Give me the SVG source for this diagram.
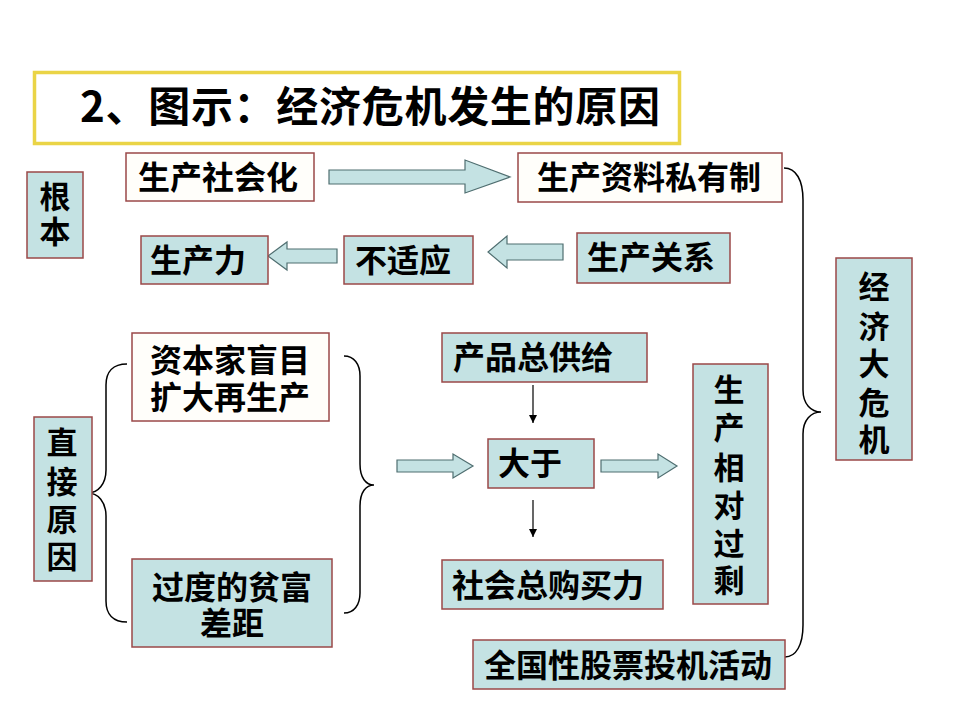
<svg xmlns="http://www.w3.org/2000/svg" width="960" height="720" viewBox="0 0 960 720">
<defs>
<style>
.t{fill:#C4E2E3;stroke:#9A4848;stroke-width:1.5}
.w{fill:#FFFEFA;stroke:#9A4848;stroke-width:1.5}
.tx{font-family:"Noto Sans CJK SC","Noto Sans",sans-serif;font-weight:bold;font-size:32px;fill:#000}
.tv{font-family:"Noto Sans CJK SC","Noto Sans",sans-serif;font-weight:bold;font-size:31px;fill:#000;text-anchor:middle}
.ba{fill:#C4E2E3;stroke:#4F6E70;stroke-width:1.2}
.br{fill:none;stroke:#000;stroke-width:1.5}
.ln{stroke:#000;stroke-width:1.2;fill:none}
</style>
<marker id="ah" markerWidth="8" markerHeight="10" refX="8" refY="5" orient="auto" markerUnits="userSpaceOnUse">
<path d="M0,1 L8,5 L0,9 Z" fill="#000"/>
</marker>
</defs>
<rect width="960" height="720" fill="#fff"/>

<g id="title">
<rect x="34.5" y="72.5" width="645" height="71" fill="#fff" stroke="#EAD446" stroke-width="3.5"/>
<text x="80" y="122" font-family="'Noto Sans CJK SC','Noto Sans',sans-serif" font-size="42" font-weight="bold" textLength="580" lengthAdjust="spacing">2、图示：经济危机发生的原因</text>
</g>

<g id="connectors">
<polygon class="ba" points="329,170 465,170 465,160 510,177 465,193 465,184 329,184"/>
<polygon class="ba" points="337,249 287,249 287,242 268,256 287,270 287,263 337,263"/>
<polygon class="ba" points="563,244 507,244 507,236 488,252 507,268 507,260 563,260"/>
<polygon class="ba" points="397,460 453,460 453,454 473,466 453,478 453,472 397,472"/>
<polygon class="ba" points="601,460 658,460 658,454 677,466 658,478 658,472 601,472"/>
<line class="ln" x1="533" y1="385" x2="533" y2="423" marker-end="url(#ah)"/>
<line class="ln" x1="533" y1="500" x2="533" y2="537" marker-end="url(#ah)"/>
<path class="br" d="M127,364 C113,364 106,372 106,385 L106,470 C106,484 98,493 88,493 C98,493 106,502 106,516 L106,601 C106,614 113,622 127,622"/>
<path class="br" d="M344,356 C354,356 360,364 360,376 L360,464 C360,478 366,485 374,485 C366,485 360,492 360,506 L360,593 C360,605 354,613 344,613"/>
<path class="br" d="M784,168 C796,168 803,180 803,200 L803,390 C803,404 811,412 821,412 C811,412 803,420 803,434 L803,625 C803,645 796,657 785,657"/>
</g>

<g id="genben">
<rect class="t" x="27" y="172" width="56" height="86"/>
<text class="tv" x="55" y="208">根</text>
<text class="tv" x="55" y="243">本</text>
</g>

<g id="shehuihua">
<rect class="w" x="126" y="153" width="188" height="48"/>
<text class="tx" x="138" y="189">生产社会化</text>
</g>

<g id="siyouzhi">
<rect class="w" x="518" y="153" width="264" height="49"/>
<text class="tx" x="537" y="189">生产资料私有制</text>
</g>

<g id="shengchanli">
<rect class="t" x="141" y="236" width="127" height="48"/>
<text class="tx" x="150" y="272">生产力</text>
</g>

<g id="bushiying">
<rect class="t" x="344" y="236" width="129" height="48"/>
<text class="tx" x="355" y="272">不适应</text>
</g>

<g id="guanxi">
<rect class="t" x="577" y="233" width="153" height="50"/>
<text class="tx" x="587" y="269">生产关系</text>
</g>

<g id="zhijie">
<rect class="t" x="34" y="417" width="58" height="164"/>
<text class="tv" x="62" y="454">直</text>
<text class="tv" x="62" y="493">接</text>
<text class="tv" x="62" y="531">原</text>
<text class="tv" x="62" y="568">因</text>
</g>

<g id="zibenjia">
<rect class="w" x="132" y="333" width="197" height="88"/>
<text class="tx" x="150" y="372">资本家盲目</text>
<text class="tx" x="150" y="409">扩大再生产</text>
</g>

<g id="pinfu">
<rect class="t" x="132" y="559" width="200" height="88"/>
<text class="tx" x="152" y="599">过度的贫富</text>
<text class="tx" x="200" y="635">差距</text>
</g>

<g id="gongji">
<rect class="t" x="442" y="333" width="205" height="49"/>
<text class="tx" x="453" y="369">产品总供给</text>
</g>

<g id="dayu">
<rect class="t" x="488" y="439" width="106" height="49"/>
<text class="tx" x="498" y="475">大于</text>
</g>

<g id="goumaili">
<rect class="t" x="442" y="560" width="221" height="49"/>
<text class="tx" x="452" y="597">社会总购买力</text>
</g>

<g id="guosheng">
<rect class="t" x="693" y="364" width="75" height="240"/>
<text class="tv" x="729" y="401">生</text>
<text class="tv" x="729" y="439">产</text>
<text class="tv" x="729" y="479">相</text>
<text class="tv" x="729" y="517">对</text>
<text class="tv" x="729" y="555">过</text>
<text class="tv" x="729" y="592">剩</text>
</g>

<g id="gupiao">
<rect class="t" x="473" y="640" width="312" height="49"/>
<text class="tx" x="484" y="677">全国性股票投机活动</text>
</g>

<g id="weiji">
<rect class="t" x="836" y="258" width="76" height="202"/>
<text class="tv" x="874" y="298">经</text>
<text class="tv" x="874" y="338">济</text>
<text class="tv" x="874" y="375">大</text>
<text class="tv" x="874" y="414">危</text>
<text class="tv" x="874" y="451">机</text>
</g>
</svg>
